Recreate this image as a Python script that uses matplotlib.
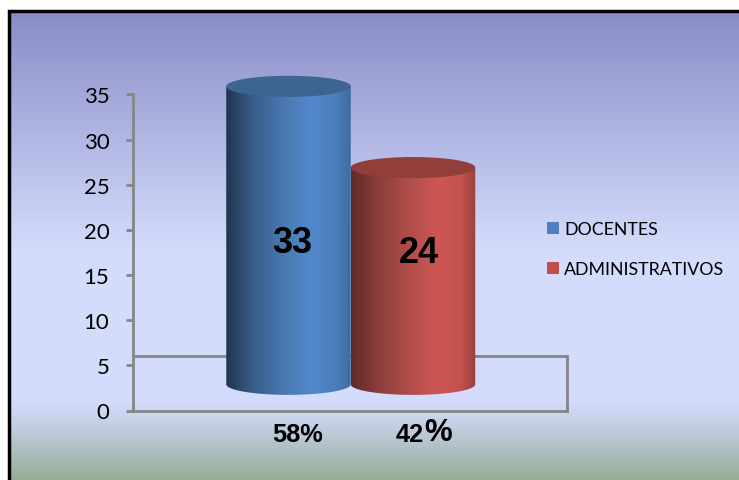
import numpy as np
import matplotlib
matplotlib.use("Agg")
import matplotlib.pyplot as plt
from matplotlib.colors import LinearSegmentedColormap
from matplotlib.patches import Ellipse, PathPatch, Rectangle
from matplotlib.path import Path

categories = ["DOCENTES", "ADMINISTRATIVOS"]
values = [33, 24]
percent_labels = ["58%", "42"]
y_ticks = [0, 5, 10, 15, 20, 25, 30, 35]

W, H = 739, 481
fig = plt.figure(figsize=(W / 100, H / 100), dpi=100, facecolor="white")
PX = 0.72  # points per pixel

# background panel with gradient and black frame
bg = fig.add_axes([0, 0, 1, 1], zorder=0)
bg.axis("off")
bg_cmap = LinearSegmentedColormap.from_list("bg", [
    (0.0, "#8a8cc7"), (0.507, "#d4dcfc"), (0.83, "#d4dcfc"),
    (0.88, "#c4d0e6"), (1.0, "#96ad98")])
grad = np.linspace(0, 1, 512).reshape(-1, 1)
bg.imshow(grad, cmap=bg_cmap, extent=(8, W, H, 13), aspect="auto")
bg.set_xlim(0, W); bg.set_ylim(H, 0)
bg.plot([8.5, 8.5, W], [H + 5, 12, 12], color="black", lw=2.5, solid_joinstyle="miter")

# chart axes
x0, x1, y0, y_per = 133, 567, 411.5, 9.03
ymax = 38
ax = fig.add_axes([x0 / W, (H - y0) / H, (x1 - x0) / W, ymax * y_per / H], zorder=1)
ax.patch.set_alpha(0)
unit = 124.5
c0 = 288.5
xlim = ((x0 - c0) / unit, (x1 - c0) / unit)
grey = "#868686"
floor_back = 6.0
base = 2.9
ry = 1.17
lw = 2.0

ax.hlines(floor_back, xlim[0], xlim[1], color=grey, lw=lw, zorder=1)
ax.spines["top"].set_visible(False)
for s in ("left", "bottom", "right"):
    ax.spines[s].set_color(grey)
    ax.spines[s].set_linewidth(lw)
ax.spines["left"].set_bounds(0, 35)
ax.spines["right"].set_bounds(0, floor_back)
ax.set_yticks(y_ticks)
ax.set_xticks([])
ax.tick_params(axis="y", color=grey, width=lw, length=5.0, pad=12, labelsize=16)
for lb in ax.get_yticklabels():
    lb.set_fontfamily("Lato")
    lb.set_color("black")

cmaps = [
    (["#1e3550", "#385c86", "#4b7cb6", "#5288cb", "#4b7fbb", "#3f6c9f"], "#3e6490"),
    (["#5f2a27", "#8a3d3a", "#b5504d", "#cd5653", "#c4514e", "#9a413e"], "#923e3b"),
]
stops = [0, 0.2, 0.5, 0.68, 0.88, 1]
label_y = [18.55, 17.55]
label_dx = [0.03, 0.045]
theta = np.linspace(0, np.pi, 80)
for i, (v, (cols, topcol)) in enumerate(zip(values, cmaps)):
    top = base + v
    xs = i + 0.5 * np.cos(theta)
    ys = base - ry * np.sin(theta)
    verts = np.vstack([[[i - 0.5, top], [i + 0.5, top]], np.column_stack([xs, ys]), [[i - 0.5, top]]])
    codes = [Path.MOVETO] + [Path.LINETO] * (len(verts) - 2) + [Path.CLOSEPOLY]
    patch = PathPatch(Path(verts, codes), facecolor="none", edgecolor="none", zorder=3)
    ax.add_patch(patch)
    cm = LinearSegmentedColormap.from_list(f"c{i}", list(zip(stops, cols)))
    im = ax.imshow(np.linspace(0, 1, 256).reshape(1, -1), cmap=cm, aspect="auto",
                   extent=(i - 0.5, i + 0.5, base - ry, top), zorder=3)
    im.set_clip_path(patch)
    ax.add_patch(Ellipse((i, top), 1.0, 2 * ry, facecolor=topcol, edgecolor="none", zorder=4))
    ax.text(i + label_dx[i], label_y[i], str(v), ha="center", va="center",
            fontsize=26, fontweight="bold", family="Liberation Sans", color="black", zorder=5)

ax.set_xlim(*xlim)
ax.set_ylim(0, ymax)

# percentage labels
tr = ax.get_xaxis_transform()
ax.annotate(percent_labels[0], (0, 0), xycoords=tr, xytext=(9.5 * PX, -23.5 * PX), textcoords="offset points",
            ha="center", va="center", fontsize=18.3, fontweight="bold", family="Liberation Sans", annotation_clip=False)
ax.annotate(percent_labels[1], (1, 0), xycoords=tr, xytext=(11 * PX, -23.5 * PX), textcoords="offset points",
            ha="right", va="center", fontsize=18.3, fontweight="bold", family="Liberation Sans", annotation_clip=False)
ax.annotate("%", (1, 0), xycoords=tr, xytext=(11 * PX, -22 * PX), textcoords="offset points",
            ha="left", va="center", fontsize=22.5, fontweight="bold", family="Liberation Sans", annotation_clip=False)

# legend
handles = [Rectangle((0, 0), 1, 1, facecolor=col) for col in ["#4f81bd", "#c0504d"]]
leg = fig.legend(handles, categories, loc="upper left", bbox_to_anchor=(547 / W, 1 - 222 / H),
                 bbox_transform=fig.transFigure, frameon=False, prop={"family": "Lato", "size": 12.8},
                 handlelength=0.68, handleheight=0.68, handletextpad=0.28, labelspacing=1.36, borderpad=0, borderaxespad=0)
leg.set_zorder(6)

fig.savefig("out.png", dpi=100, facecolor="white")
